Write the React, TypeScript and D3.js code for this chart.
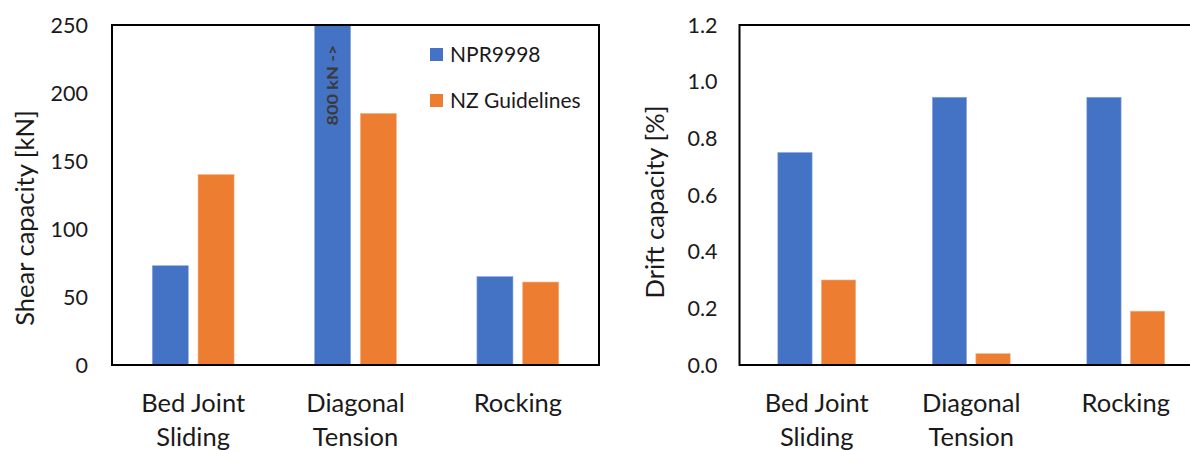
import React from "react";
import * as d3 from "d3";

const categories: string[][] = [["Bed Joint", "Sliding"], ["Diagonal", "Tension"], ["Rocking"]];
const seriesNames = ["NPR9998", "NZ Guidelines"];
const shearNPR = [73, 800, 65];
const shearNZ = [140, 185, 61];
const driftNPR = [0.75, 0.945, 0.945];
const driftNZ = [0.3, 0.04, 0.19];
const shearTicks = [0, 50, 100, 150, 200, 250];
const driftTicks = [0, 0.2, 0.4, 0.6, 0.8, 1.0, 1.2];
const clipNote = "800 kN ->";

const BLUE = "#4472C4";
const ORANGE = "#ED7D31";
const FONT = "Lato, 'Open Sans', sans-serif";
const TXT = "#1a1a1a";

type PanelProps = {
  x0: number; x1: number; y0: number; y1: number;
  domainMax: number; ticks: number[]; fmt: (v: number) => string;
  a: number[]; b: number[]; title: string; titleX: number; titleY: number; tickGap: number;
  note?: boolean; legend?: boolean;
};

function Panel(p: PanelProps) {
  const x = d3.scaleBand<number>().domain(d3.range(categories.length)).range([p.x0, p.x1]).padding(0);
  const y = d3.scaleLinear().domain([0, p.domainMax]).range([p.y1, p.y0]);
  const bw = x.bandwidth() * 0.222;
  const gap = x.bandwidth() * 0.06;
  const clampV = (v: number) => Math.min(v, p.domainMax);
  return (
    <g>
      {p.a.map((v, i) => {
        const cx = x(i)! + x.bandwidth() / 2;
        return (
          <g key={i}>
            <rect x={cx - gap / 2 - bw} y={y(clampV(v))} width={bw} height={p.y1 - y(clampV(v))} fill={BLUE} stroke="#8faadc" strokeWidth={0.6} />
            <rect x={cx + gap / 2} y={y(clampV(p.b[i]))} width={bw} height={p.y1 - y(clampV(p.b[i]))} fill={ORANGE} stroke="#f4b183" strokeWidth={0.6} />
            {p.note && v > p.domainMax && (
              <text transform={`translate(${cx - gap / 2 - bw / 2 + 5.5},${p.y0 + 60}) rotate(-90)`} textAnchor="middle"
                fontFamily={FONT} fontSize={16} fontWeight={700} fill="#3a3a3a" textLength={81} lengthAdjust="spacingAndGlyphs">{clipNote}</text>
            )}
          </g>
        );
      })}
      <rect x={p.x0} y={p.y0} width={p.x1 - p.x0} height={p.y1 - p.y0} fill="none" stroke="#000" strokeWidth={2} />
      {p.ticks.map((t) => (
        <text key={t} x={p.x0 - p.tickGap} y={y(t)} dy="0.35em" textAnchor="end" fontFamily={FONT} fontSize={21.5} fill={TXT}>{p.fmt(t)}</text>
      ))}
      {categories.map((lines, i) => (
        <text key={i} x={x(i)! + x.bandwidth() / 2} textAnchor="middle" fontFamily={FONT} fontSize={25.5} fill={TXT}>
          {lines.map((l, j) => (
            <tspan key={j} x={x(i)! + x.bandwidth() / 2} y={412 + j * 34}>{l}</tspan>
          ))}
        </text>
      ))}
      <text transform={`translate(${p.titleX},${p.titleY}) rotate(-90)`} textAnchor="middle" fontFamily={FONT} fontSize={25.5} fill={TXT}>{p.title}</text>
      {p.legend && seriesNames.map((s, i) => (
        <g key={s}>
          <rect x={430} y={48 + i * 46} width={13} height={13} fill={i === 0 ? BLUE : ORANGE} />
          <text x={450} y={55 + i * 46} dy="0.35em" fontFamily={FONT} fontSize={21} fill={TXT}>{s}</text>
        </g>
      ))}
    </g>
  );
}

export default function App() {
  return (
    <svg width={1190} height={450} style={{ position: "absolute", left: 0, top: 0, background: "#fff" }}>
      <rect width={1190} height={450} fill="#fff" />
      <Panel x0={112} x1={599} y0={25} y1={365} domainMax={250} ticks={shearTicks} fmt={(v) => String(v)}
        a={shearNPR} b={shearNZ} title="Shear capacity [kN]" titleX={34} titleY={218} tickGap={24} note legend />
      <Panel x0={739.5} x1={1203} y0={25} y1={365} domainMax={1.2} ticks={driftTicks} fmt={(v) => v.toFixed(1)}
        a={driftNPR} b={driftNZ} title="Drift capacity [%]" titleX={664} titleY={202} tickGap={22} />
    </svg>
  );
}
